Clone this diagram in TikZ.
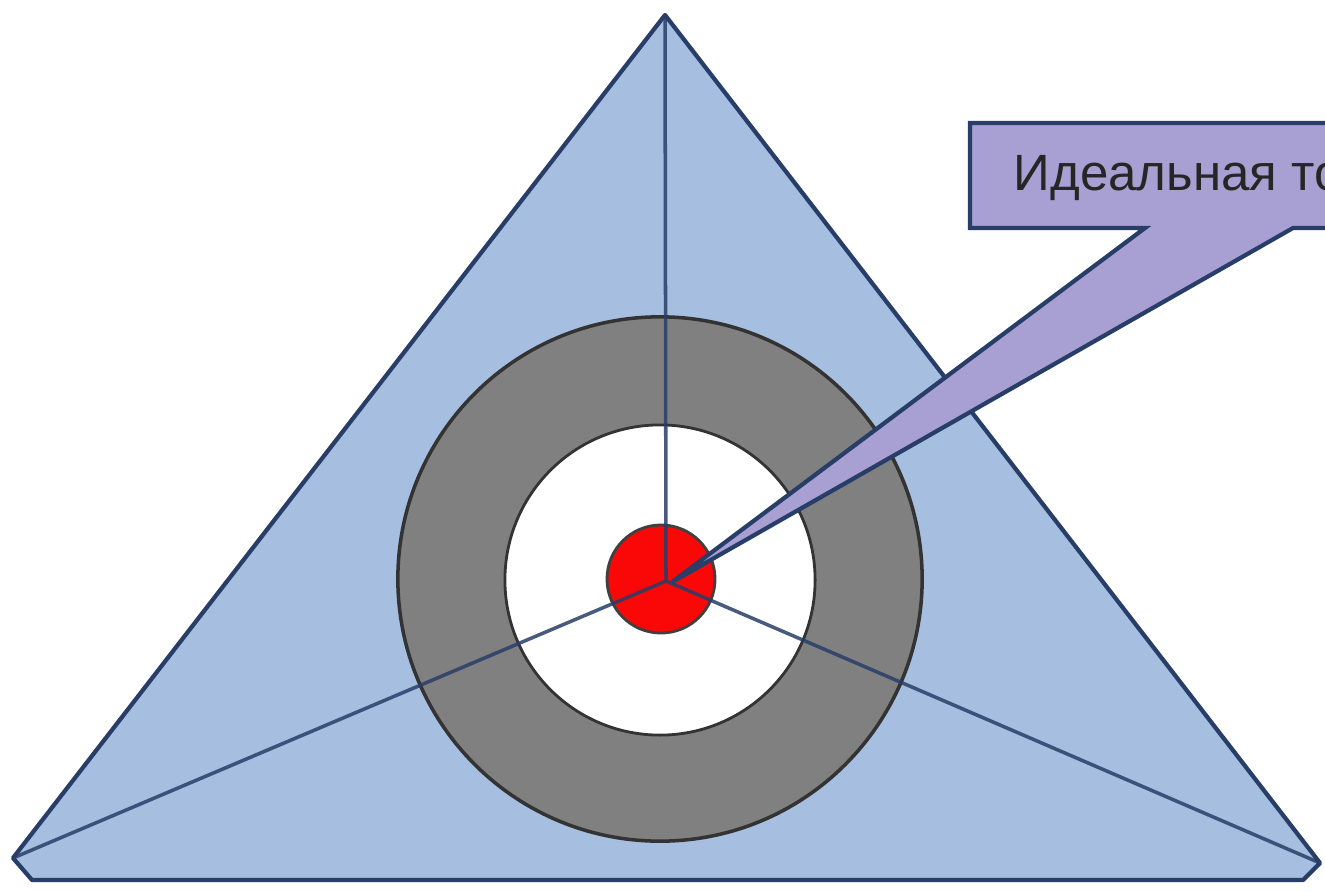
\documentclass[tikz,border=0pt]{standalone}
\usepackage{fontspec}
\setmainfont{Liberation Sans}
\usetikzlibrary{positioning,calc}
\definecolor{areacolor}{RGB}{166,190,224}
\definecolor{edgecolor}{RGB}{40,62,104}
\definecolor{ringcolor}{RGB}{128,128,128}
\definecolor{pointcolor}{RGB}{250,8,8}
\definecolor{notecolor}{RGB}{168,160,210}

\begin{document}
\begin{tikzpicture}[
    x=0.01cm, y=-0.01cm,
    area/.style={draw=edgecolor, fill=areacolor, line width=1.2pt, line join=round},
    ring/.style={circle, draw=black!80, fill=ringcolor, line width=1pt, minimum size=5.24cm, inner sep=0pt},
    hole/.style={circle, draw=black!80, fill=white, line width=0.8pt, minimum size=3.1cm, inner sep=0pt},
    target/.style={circle, draw=black!75, fill=pointcolor, line width=0.8pt, minimum size=1.08cm, inner sep=0pt},
    axis/.style={draw=edgecolor, line width=1pt, opacity=0.85},
    callout/.style={draw=edgecolor, fill=notecolor, line width=1.2pt},
    note/.style={font=\fontsize{14.5}{17}\selectfont, text=black!85, anchor=base west, inner sep=0pt}
]
    \useasboundingbox (0,0) rectangle (1325,891);
    \clip (0,0) rectangle (1325,891);
    \fill[white] (0,0) rectangle (1325,891);

    % Corners
    \coordinate (top) at (665,15);
    \coordinate (left) at (13,858);
    \coordinate (right) at (1320,863);
    \coordinate (mid) at (666,581);
    \draw[area] (top) -- (right) -- (1303,880) -- (32,880) -- (left) -- cycle;

    % Nodes
    \node[ring] (ring) at (660,579) {};
    \node[hole] (hole) at (660,580) {};
    \node[target] (target) at (661,579) {};

    % Edges
    \draw[axis] (mid) -- (top);
    \draw[axis] (mid) -- (left);
    \draw[axis] (mid) -- (right);

    % Callout
    \coordinate (tip) at (672,582);
    \draw[callout] (tip) -- (1145,228) -- (970,228) -- (970,123) -- (1340,123)
        -- (1340,228) -- (1293,228) -- cycle;
    \node[note] (label) at (1013,190) {Идеальная точка};
\end{tikzpicture}
\end{document}
